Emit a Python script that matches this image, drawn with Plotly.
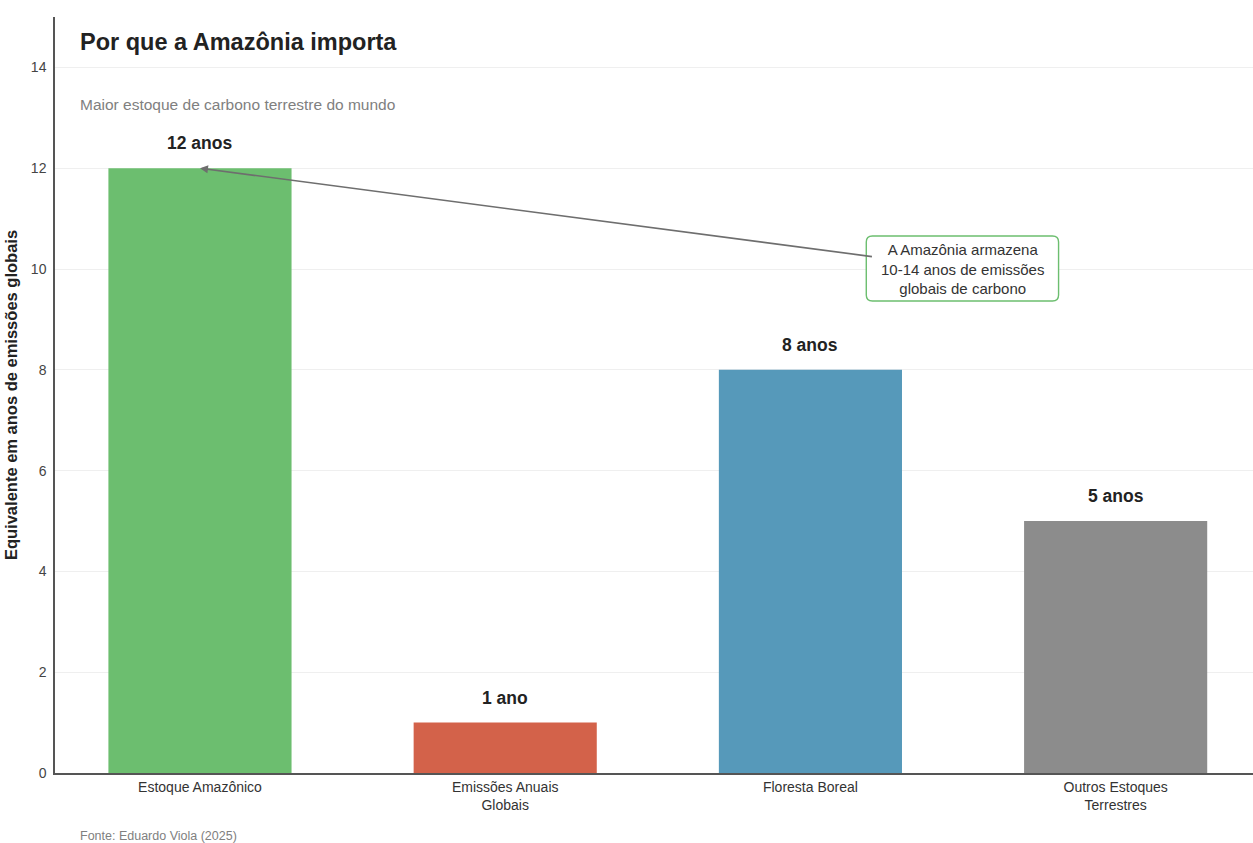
import plotly.graph_objects as go

categories = ["Estoque Amazônico", "Emissões Anuais<br>Globais", "Floresta Boreal", "Outros Estoques<br>Terrestres"]
values = [12, 1, 8, 5]
labels = ["12 anos", "1 ano", "8 anos", "5 anos"]
colors = ["#6CBE6F", "#D3624A", "#5699BA", "#8C8C8C"]
yticks = [0, 2, 4, 6, 8, 10, 12, 14]

FONT = "Liberation Sans, Arial, sans-serif"

fig = go.Figure()
fig.add_trace(go.Bar(
    x=list(range(len(categories))), y=values,
    marker=dict(color=colors, line=dict(width=0)),
    width=0.6,
    hoverinfo="skip",
))

# value labels above bars
for i, (v, lab) in enumerate(zip(values, labels)):
    fig.add_annotation(x=i, y=v, xref="x", yref="y", text=f"<b>{lab}</b>",
                       showarrow=False, yshift=25, yanchor="middle",
                       font=dict(family=FONT, size=17.5, color="#222222"))

fig.update_layout(
    width=1253, height=843,
    margin=dict(l=55, r=0, t=17, b=70),
    paper_bgcolor="white", plot_bgcolor="white",
    showlegend=False,
    font=dict(family=FONT, color="#333333"),
)

fig.update_xaxes(
    range=[-0.475, 3.45],
    tickmode="array", tickvals=list(range(len(categories))), ticktext=categories,
    tickfont=dict(family=FONT, size=14, color="#333333"),
    showgrid=False, zeroline=False,
    showline=True, linecolor="#555555", linewidth=1.5,
    ticks="", ticklen=0,
)
fig.update_yaxes(
    range=[0, 15],
    tickmode="array", tickvals=yticks,
    tickfont=dict(family=FONT, size=14, color="#444444"),
    showgrid=True, gridcolor="#EFEFEF", gridwidth=1,
    zeroline=False,
    showline=True, linecolor="#555555", linewidth=1.5,
    ticks="", ticklabelstandoff=4,
    title=dict(text="<b>Equivalente em anos de emissões globais</b>",
               font=dict(family=FONT, size=16.5, color="#222222"), standoff=9),
)

H = 843 - 17 - 70
# Title / subtitle / caption
fig.add_annotation(xref="paper", yref="paper", x=0.019, y=(843 - 42 - 70) / H,
                   text="<b>Por que a Amazônia importa</b>", showarrow=False,
                   xanchor="left", yanchor="middle",
                   font=dict(family=FONT, size=23.5, color="#222222"))
fig.add_annotation(xref="paper", yref="paper", x=0.019, y=(843 - 104 - 70) / H,
                   text="Maior estoque de carbono terrestre do mundo", showarrow=False,
                   xanchor="left", yanchor="middle",
                   font=dict(family=FONT, size=15.5, color="#808080"))
fig.add_annotation(xref="paper", yref="paper", x=0.019, y=-(836 - 773) / H,
                   text="Fonte: Eduardo Viola (2025)", showarrow=False,
                   xanchor="left", yanchor="middle",
                   font=dict(family=FONT, size=12.5, color="#808080"))

# Callout box (rounded) and arrow
cx, cy = 2.498, 10.01
hw, hh = 0.315, 0.645
rx, ry = 0.02, 0.12
x0, x1, y0, y1 = cx - hw, cx + hw, cy - hh, cy + hh
path = (f"M {x0+rx},{y0} L {x1-rx},{y0} Q {x1},{y0} {x1},{y0+ry} "
        f"L {x1},{y1-ry} Q {x1},{y1} {x1-rx},{y1} L {x0+rx},{y1} "
        f"Q {x0},{y1} {x0},{y1-ry} L {x0},{y0+ry} Q {x0},{y0} {x0+rx},{y0} Z")
fig.add_shape(type="path", path=path, xref="x", yref="y",
              line=dict(color="#6CBE6F", width=1.4), fillcolor="white", layer="above")

fig.add_annotation(
    x=0, y=12, xref="x", yref="y",
    ax=cx, ay=cy, axref="x", ayref="y",
    text="A Amazônia armazena<br>10-14 anos de emissões<br>globais de carbono",
    showarrow=True, arrowhead=2, arrowsize=1, arrowwidth=1.6, arrowcolor="#6E6E6E",
    font=dict(family=FONT, size=15, color="#333333"),
    bgcolor="rgba(0,0,0,0)", borderwidth=0, borderpad=9,
    align="center",
)

fig.write_html("out.html")
